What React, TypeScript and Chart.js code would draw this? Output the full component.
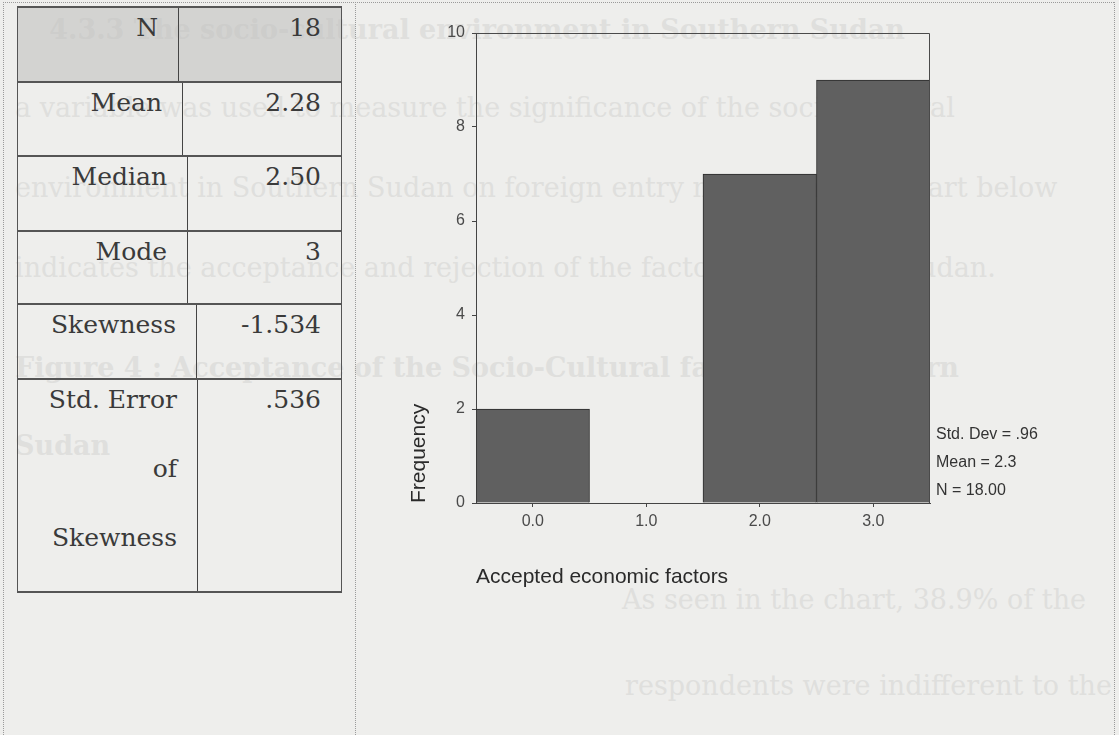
import React, { useEffect, useRef } from "react";
import { Chart, registerables } from "chart.js";

Chart.register(...registerables);

// ---- data ----
const categories = ["0.0", "1.0", "2.0", "3.0"];
const frequencies = [2, 0, 7, 9];
const yTickValues = [0, 2, 4, 6, 8, 10];
const statLines = ["Std. Dev = .96", "Mean = 2.3", "N = 18.00"];
const xTitle = "Accepted economic factors";
const yTitle = "Frequency";
const tableLabels = [["N"], ["Mean"], ["Median"], ["Mode"], ["Skewness"], ["Std. Error", "of", "Skewness"]];
const tableValues = ["18", "2.28", "2.50", "3", "-1.534", ".536"];
const ghostLines = [
  "4.3.3 The socio-cultural environment in Southern Sudan",
  "a variable was used to measure the significance of the socio-cultural",
  "environment in Southern Sudan on foreign entry mode. The pie chart below",
  "indicates the acceptance and rejection of the factor in Southern Sudan.",
  "Figure 4 : Acceptance of the Socio-Cultural factor in Southern",
  "Sudan",
  "As seen in the chart, 38.9% of the",
  "respondents were indifferent to the",
];

// ---- layout (not data) ----
const rowTops = [6, 81, 155, 230, 303, 378, 593];
const rowSplits = [178, 182, 187, 187, 196, 197];
const ghostPos = [
  { top: 12, right: 214, bold: true },
  { top: 90, left: 15 },
  { top: 170, left: 15 },
  { top: 250, left: 15 },
  { top: 350, left: 15, bold: true },
  { top: 428, left: 15, bold: true },
  { top: 582, left: 622 },
  { top: 668, left: 625 },
];

const SANS = "'Liberation Sans', Arial, sans-serif";
const SERIF = "'DejaVu Serif', Georgia, serif";

const framePlugin = {
  id: "frameAndStats",
  afterDatasetsDraw(chart: any) {
    const { ctx, chartArea: a } = chart;
    ctx.save();
    ctx.strokeStyle = "#4a4a4a";
    ctx.lineWidth = 1;
    ctx.beginPath();
    ctx.moveTo(a.left, a.top + 0.5);
    ctx.lineTo(a.right - 0.5, a.top + 0.5);
    ctx.lineTo(a.right - 0.5, a.bottom);
    ctx.stroke();
    ctx.font = `16px ${SANS}`;
    ctx.fillStyle = "#333";
    ctx.textBaseline = "middle";
    ctx.textAlign = "left";
    const n = statLines.length;
    statLines.forEach((t, i) => {
      ctx.fillText(t, a.right + 6, a.bottom - 12 - 28 * (n - 1 - i));
    });
    ctx.restore();
  },
};

function HistogramChart() {
  const ref = useRef<HTMLCanvasElement | null>(null);
  useEffect(() => {
    if (!ref.current) return;
    const chart = new Chart(ref.current, {
      type: "bar",
      data: {
        labels: categories,
        datasets: [
          {
            data: frequencies,
            backgroundColor: "#606060",
            borderColor: "#2a2a2a",
            borderWidth: 1,
            barPercentage: 1,
            categoryPercentage: 1,
          },
        ],
      },
      options: {
        animation: false,
        responsive: false,
        maintainAspectRatio: false,
        layout: { padding: { left: 0, top: 33, right: 189, bottom: 132 } },
        plugins: { legend: { display: false }, tooltip: { enabled: false } },
        scales: {
          x: {
            type: "category",
            offset: true,
            grid: { display: true, drawOnChartArea: false, offset: false, tickLength: 4, tickColor: "#444", color: "#444" },
            border: { display: true, color: "#444", width: 1 },
            ticks: { color: "#4a4a4a", font: { family: SANS, size: 16 }, padding: 5, maxRotation: 0 },
            title: {
              display: true,
              text: xTitle,
              align: "start",
              color: "#2a2a2a",
              font: { family: SANS, size: 21 },
              padding: { top: 0, bottom: 13 },
            },
            afterFit: (s: any) => {
              s.height = 100;
            },
          },
          y: {
            min: 0,
            max: 10,
            afterBuildTicks: (s: any) => {
              s.ticks = yTickValues.map((v) => ({ value: v }));
            },
            grid: { display: true, drawOnChartArea: false, tickLength: 4, tickColor: "#444", color: "#444" },
            border: { display: true, color: "#444", width: 1 },
            ticks: { color: "#4a4a4a", font: { family: SANS, size: 16 }, padding: 7 },
            title: {
              display: true,
              text: yTitle,
              align: "start",
              color: "#2a2a2a",
              font: { family: SANS, size: 21 },
              padding: { top: 47, bottom: 0 },
            },
            afterFit: (s: any) => {
              s.width = 116;
            },
          },
        },
      },
      plugins: [framePlugin],
    } as any);
    return () => chart.destroy();
  }, []);
  return (
    <canvas
      ref={ref}
      width={759}
      height={735}
      style={{ position: "absolute", left: 360, top: 0, width: 759, height: 735, display: "block", zIndex: 2 }}
    />
  );
}

function StatsTable() {
  return (
    <div style={{ position: "absolute", left: 0, top: 0, zIndex: 2 }}>
      {tableLabels.map((lines, i) => {
        const top = rowTops[i];
        const h = rowTops[i + 1] - top;
        const split = rowSplits[i];
        return (
          <div
            key={i}
            style={{
              position: "absolute",
              left: 17,
              top,
              width: 325,
              height: h,
              boxSizing: "border-box",
              borderTop: "2px solid #555",
              borderLeft: "1px solid #555",
              borderRight: "1px solid #555",
              borderBottom: i === tableLabels.length - 1 ? "2px solid #555" : "none",
              background: i === 0 ? "rgba(190,190,188,0.55)" : "transparent",
              fontFamily: SERIF,
              fontSize: 25,
              lineHeight: "30px",
              color: "#3a3a3a",
            }}
          >
            <div
              style={{
                position: "absolute",
                left: 0,
                top: 0,
                width: split - 17,
                height: "100%",
                boxSizing: "border-box",
                borderRight: "1px solid #444",
                textAlign: "right",
                paddingRight: 20,
                paddingTop: 5,
              }}
            >
              {lines.map((l, j) => (
                <div key={j} style={{ marginBottom: j < lines.length - 1 ? 39 : 0 }}>
                  {l}
                </div>
              ))}
            </div>
            <div
              style={{
                position: "absolute",
                left: split - 17,
                right: 0,
                top: 0,
                textAlign: "right",
                paddingRight: 20,
                paddingTop: 5,
              }}
            >
              {tableValues[i]}
            </div>
          </div>
        );
      })}
    </div>
  );
}

function Ghost() {
  return (
    <div style={{ position: "absolute", inset: 0, zIndex: 1, pointerEvents: "none" }}>
      {ghostLines.map((t, i) => {
        const p: any = ghostPos[i];
        return (
          <div
            key={i}
            style={{
              position: "absolute",
              top: p.top,
              left: p.left,
              right: p.right,
              whiteSpace: "nowrap",
              fontFamily: SERIF,
              fontSize: 27,
              lineHeight: "36px",
              fontWeight: p.bold ? 700 : 400,
              color: "#dfdfdd",
            }}
          >
            {t}
          </div>
        );
      })}
    </div>
  );
}

export default function App() {
  return (
    <div
      style={{
        position: "absolute",
        left: 0,
        top: 0,
        width: 1119,
        height: 735,
        overflow: "hidden",
        background: "#eeeeec",
      }}
    >
      <Ghost />
      <div style={{ position: "absolute", left: 3, top: 2, width: 0, height: 733, borderLeft: "1px dotted #9a9a9a", zIndex: 1 }} />
      <div style={{ position: "absolute", left: 355, top: 2, width: 0, height: 733, borderLeft: "1px dotted #9a9a9a", zIndex: 1 }} />
      <div style={{ position: "absolute", left: 1114, top: 2, width: 0, height: 733, borderLeft: "1px dotted #9a9a9a", zIndex: 1 }} />
      <div style={{ position: "absolute", left: 3, top: 2, width: 1111, height: 0, borderTop: "1px dotted #9a9a9a", zIndex: 1 }} />
      <StatsTable />
      <HistogramChart />
    </div>
  );
}
